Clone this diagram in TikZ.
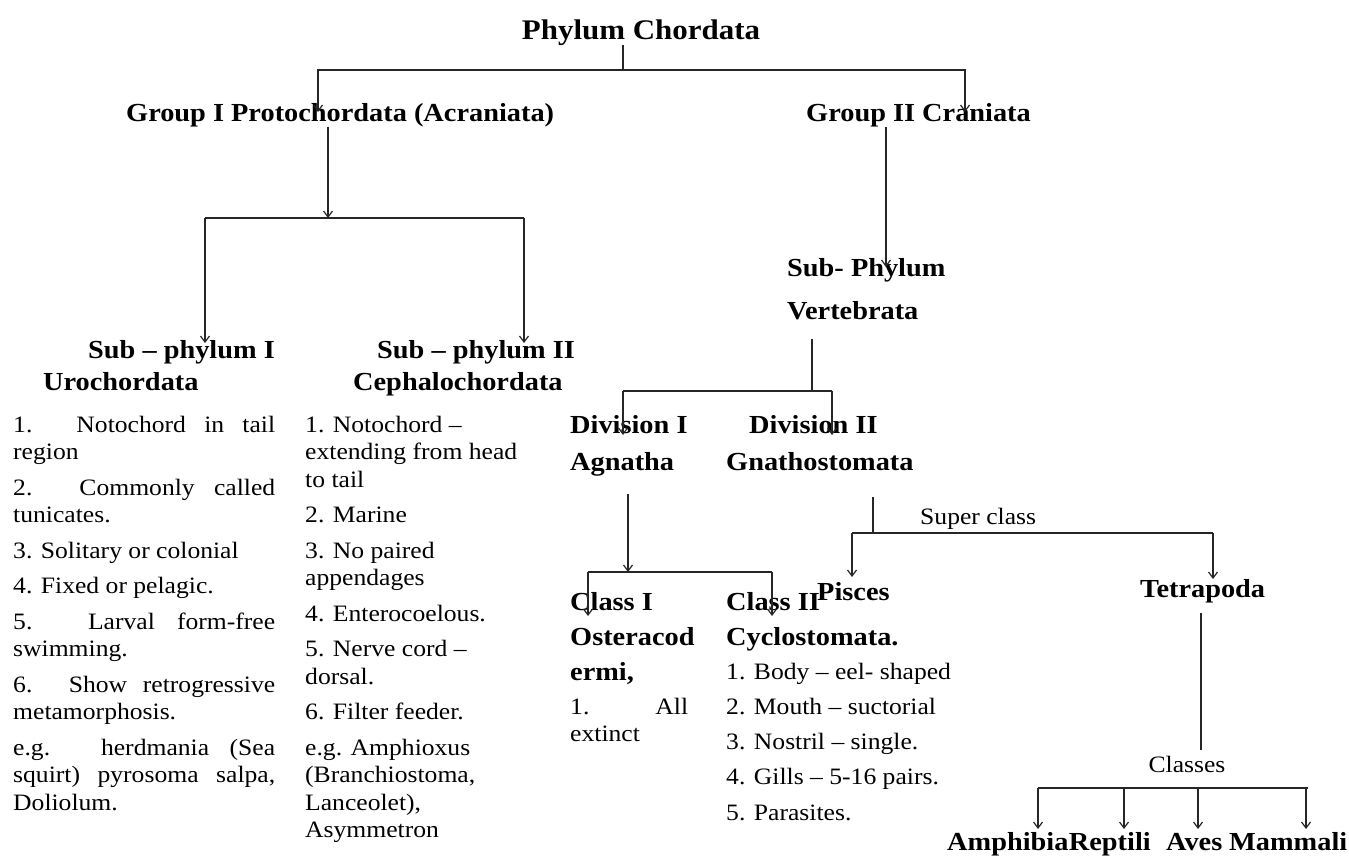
\documentclass[tikz,border=0pt]{standalone}
\usepackage{fontspec}
\setmainfont{Liberation Serif}[FakeStretch=1.09]
\usetikzlibrary{arrows.meta}
% a line of text spread to a fixed width (justified)
\newcommand\justline[2]{\makebox[#1][s]{#2}}
\begin{document}
\begin{tikzpicture}[x=1pt,y=-1pt,
  txt/.style={anchor=base west, inner sep=0pt, font=\fontsize{23.5}{27}\selectfont},
  hd/.style={anchor=base west, inner sep=0pt, font=\fontsize{26}{30}\selectfont\bfseries},
  ln/.style={draw=black!85, line width=1.3pt},
  arr/.style={ln, -{Straight Barb[length=6pt,width=9pt,line width=1.2pt]}}]
\useasboundingbox[fill=white] (0,0) rectangle (1349,857);

% ---------- headings ----------
\node[anchor=base, inner sep=0pt, font=\fontsize{28.4}{32}\selectfont\bfseries] (phylum) at (641,39) {Phylum Chordata};
\node[hd] (grp1) at (126,121) {Group I Protochordata (Acraniata)};
\node[hd] (grp2) at (806,121) {Group II Craniata};

\node[hd] (sp1a) at (88,358) {Sub – phylum I};
\node[hd] (sp1b) at (43,390) {Urochordata};
\node[hd] (sp2a) at (377,358) {Sub – phylum II};
\node[hd] (sp2b) at (353,390) {Cephalochordata};

\node[hd] (vert1) at (787,276) {Sub- Phylum};
\node[hd] (vert2) at (787,319) {Vertebrata};

\node[hd] (div1a) at (570,433) {Division I};
\node[hd] (div1b) at (570,470) {Agnatha};
\node[hd] (div2a) at (749,433) {Division II};
\node[hd] (div2b) at (726,470) {Gnathostomata};

\node[hd] (cl1a) at (570,610) {Class I};
\node[hd] (cl1b) at (570,645) {Osteracod};
\node[hd] (cl1c) at (570,680) {ermi,};
\node[txt] (cl1d) at (570,714) {\justline{118pt}{1. All}};
\node[txt] (cl1e) at (570,741.5) {extinct};

\node[hd] (cl2a) at (726,610) {Class II};
\node[hd] (cl2b) at (726,645) {Cyclostomata.};
\node[txt] (cy1) at (726,679) {1. Body – eel- shaped};
\node[txt] (cy2) at (726,714.25) {2. Mouth – suctorial};
\node[txt] (cy3) at (726,749.5) {3. Nostril – single.};
\node[txt] (cy4) at (726,784.75) {4. Gills – 5-16 pairs.};
\node[txt] (cy5) at (726,820) {5. Parasites.};

\node[txt] (super) at (920,524) {Super class};
\node[hd] (pisces) at (817,600) {Pisces};
\node[hd] (tetra) at (1140,597) {Tetrapoda};
\node[txt, anchor=base] (classes) at (1187,772) {Classes};

\node[hd] (amph) at (947,850) {Amphibia};
\node[hd] (rept) at (amph.base east) {Reptili};
\node[hd] (aves) at (1166,850) {Aves};
\node[hd] (mamm) at (1229,850) {Mammali};

% ---------- Urochordata features ----------
\node[txt] (u1) at (13,432) {\justline{262pt}{1. Notochord in tail}};
\node[txt] (u2) at (13,459.5) {region};
\node[txt] (u3) at (13,495) {\justline{262pt}{2. Commonly called}};
\node[txt] (u4) at (13,522.5) {tunicates.};
\node[txt] (u5) at (13,558) {3. Solitary or colonial};
\node[txt] (u6) at (13,593.5) {4. Fixed or pelagic.};
\node[txt] (u7) at (13,629) {\justline{262pt}{5. Larval form-free}};
\node[txt] (u8) at (13,656.5) {swimming.};
\node[txt] (u9) at (13,692) {\justline{262pt}{6. Show retrogressive}};
\node[txt] (u10) at (13,719.5) {metamorphosis.};
\node[txt] (u11) at (13,755) {\justline{262pt}{e.g. herdmania (Sea}};
\node[txt] (u12) at (13,782.5) {\justline{262pt}{squirt) pyrosoma salpa,}};
\node[txt] (u13) at (13,810) {Doliolum.};

% ---------- Cephalochordata features ----------
\node[txt] (k1) at (305,432) {1. Notochord –};
\node[txt] (k2) at (305,459.5) {extending from head};
\node[txt] (k3) at (305,487) {to tail};
\node[txt] (k4) at (305,522.5) {2. Marine};
\node[txt] (k5) at (305,558) {3. No paired};
\node[txt] (k6) at (305,585.5) {appendages};
\node[txt] (k7) at (305,621) {4. Enterocoelous.};
\node[txt] (k8) at (305,656.5) {5. Nerve cord –};
\node[txt] (k9) at (305,684) {dorsal.};
\node[txt] (k10) at (305,719.5) {6. Filter feeder.};
\node[txt] (k11) at (305,755) {e.g. Amphioxus};
\node[txt] (k12) at (305,782.5) {(Branchiostoma,};
\node[txt] (k13) at (305,810) {Lanceolet),};
\node[txt] (k14) at (305,837.5) {Asymmetron};

% ---------- connectors ----------
% Phylum -> two groups
\coordinate (c0) at (623,70);
\coordinate (t1) at (318,112);
\coordinate (t2) at (965,112);
\draw[ln] (phylum.south -| c0) -- (c0);
\draw[arr] (c0) -| (t1);
\draw[arr] (c0) -| (t2);

% Group I -> two sub-phyla
\coordinate (c1) at (328,218);
\coordinate (t3) at (205,343);
\coordinate (t4) at (524,343);
\draw[arr] (grp1.south -| c1) -- (c1);
\draw[ln] (t3 |- c1) -- (t4 |- c1);
\draw[arr] (t3 |- c1) -- (t3);
\draw[arr] (t4 |- c1) -- (t4);

% Group II -> Vertebrata
\coordinate (t5) at (886,267);
\draw[arr] (grp2.south -| t5) -- (t5);

% Vertebrata -> two divisions
\coordinate (s2) at (812,339);
\coordinate (c2) at (812,391);
\coordinate (t6) at (623,435);
\coordinate (t7) at (832,435);
\draw[ln] (s2) -- (c2);
\draw[ln] (t6 |- c2) -- (t7 |- c2);
\draw[arr] (t6 |- c2) -- (t6);
\draw[arr] (t7 |- c2) -- (t7);

% Agnatha -> two classes
\coordinate (s3) at (628,494);
\coordinate (c3) at (628,572);
\coordinate (t8) at (588,616);
\coordinate (t9) at (772,616);
\draw[arr] (s3) -- (c3);
\draw[ln] (t8 |- c3) -- (t9 |- c3);
\draw[arr] (t8 |- c3) -- (t8);
\draw[arr] (t9 |- c3) -- (t9);

% Gnathostomata -> super classes
\coordinate (s4) at (873,497);
\coordinate (c4) at (873,533);
\coordinate (t10) at (852,577);
\coordinate (t11) at (1213,579);
\draw[ln] (s4) -- (c4);
\draw[ln] (t10 |- c4) -- (t11 |- c4);
\draw[arr] (t10 |- c4) -- (t10);
\draw[arr] (t11 |- c4) -- (t11);

% Tetrapoda -> classes
\coordinate (s5) at (1201,613);
\coordinate (e5) at (1201,750);
\draw[ln] (s5) -- (e5);
\coordinate (c5) at (1038,788);
\coordinate (c6) at (1308,788);
\coordinate (t12) at (1038,829);
\coordinate (t13) at (1124,829);
\coordinate (t14) at (1198,829);
\coordinate (t15) at (1306,829);
\draw[ln] (c5) -- (c6);
\draw[arr] (t12 |- c5) -- (t12);
\draw[arr] (t13 |- c5) -- (t13);
\draw[arr] (t14 |- c5) -- (t14);
\draw[arr] (t15 |- c5) -- (t15);
\end{tikzpicture}
\end{document}
